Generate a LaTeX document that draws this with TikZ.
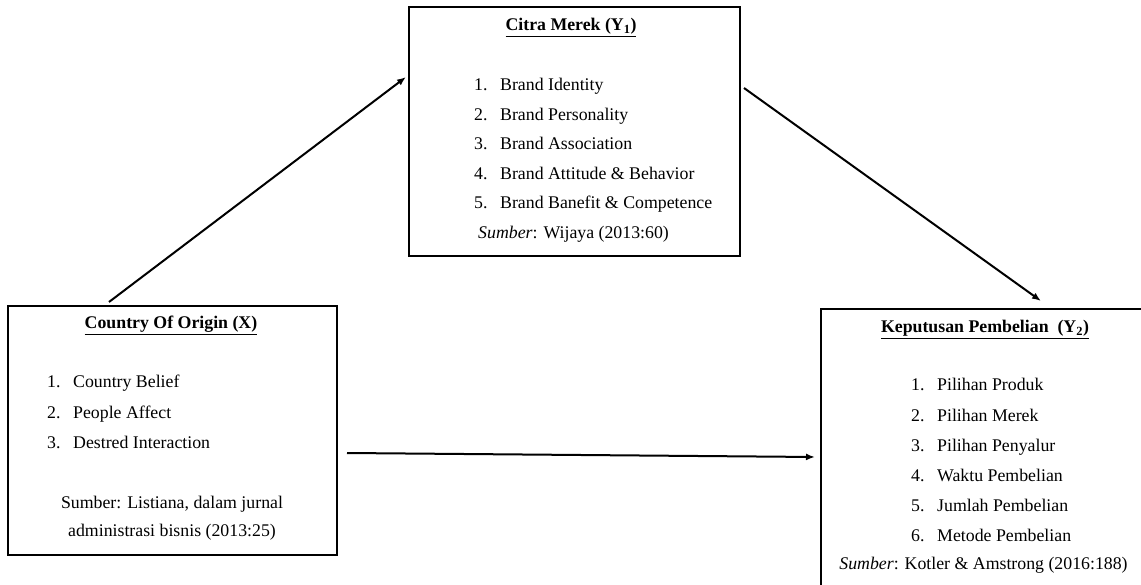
\documentclass[tikz,border=0pt]{standalone}
\usepackage{fontspec}
\setmainfont{Liberation Serif}
\usetikzlibrary{arrows.meta}
\begin{document}
\begin{tikzpicture}[x=1pt,y=-1pt,
  box/.style={draw=black,line width=1.1pt,inner sep=0pt,fill=none},
  txt/.style={inner sep=0pt,anchor=base west,font=\fontsize{17.8}{29.6}\selectfont},
  ttl/.style={inner sep=0pt,anchor=base,font=\fontsize{17.8}{29.6}\selectfont\bfseries},
  ctr/.style={inner sep=0pt,anchor=base,font=\fontsize{17.8}{29.6}\selectfont},
  conn/.style={line width=2pt,-{Latex[length=9pt,width=7pt]}}]
\useasboundingbox (0,0) rectangle (1141,585);
\clip (0,0) rectangle (1141,585);
\fill[white] (0,0) rectangle (1141,585);
\newcommand{\itm}[1]{\makebox[26pt][l]{#1}}
% boxes
\node[box,minimum width=331pt,minimum height=249pt] (citra) at (574.5,131.5) {};
\node[box,minimum width=329pt,minimum height=249pt] (coo) at (172.5,430.5) {};
\node[box,minimum width=400pt,minimum height=320pt] (kp) at (1021,469) {};
% Citra Merek
\node[ttl] (t1) at (571,31) {\underline{Citra Merek (Y\textsubscript{1})}};
\node[txt] (c1) at (474,90.6) {\itm{1.}Brand Identity};
\node[txt] (c2) at (474,120.2) {\itm{2.}Brand Personality};
\node[txt] (c3) at (474,149.8) {\itm{3.}Brand Association};
\node[txt] (c4) at (474,179.4) {\itm{4.}Brand Attitude \& Behavior};
\node[txt] (c5) at (474,209) {\itm{5.}Brand Banefit \& Competence};
\node[txt] (cs) at (478,239) {\textit{Sumber}: Wijaya (2013:60)};
% Country of Origin
\node[ttl] (t2) at (171,329) {\underline{Country Of Origin (X)}};
\node[txt] (x1) at (47,388) {\itm{1.}Country Belief};
\node[txt] (x2) at (47,418) {\itm{2.}People Affect};
\node[txt] (x3) at (47,448) {\itm{3.}Destred Interaction};
\node[ctr] (xs1) at (172,508) {Sumber: Listiana, dalam jurnal};
\node[ctr] (xs2) at (172,536) {administrasi bisnis (2013:25)};
% Keputusan Pembelian
\node[ttl] (t3) at (985,333) {\underline{Keputusan Pembelian\ \ (Y\textsubscript{2})}};
\node[txt] (k1) at (911,391) {\itm{1.}Pilihan Produk};
\node[txt] (k2) at (911,421) {\itm{2.}Pilihan Merek};
\node[txt] (k3) at (911,451) {\itm{3.}Pilihan Penyalur};
\node[txt] (k4) at (911,481) {\itm{4.}Waktu Pembelian};
\node[txt] (k5) at (911,511) {\itm{5.}Jumlah Pembelian};
\node[txt] (k6) at (911,541) {\itm{6.}Metode Pembelian};
\node[ctr] (ks) at (983.5,569) {\textit{Sumber}: Kotler \& Amstrong (2016:188)};
% connectors
\coordinate (a1s) at (109,302);
\coordinate (a1e) at (406,77);
\coordinate (a2s) at (744,88);
\coordinate (a2e) at (1041,301);
\coordinate (a3s) at (347,453);
\coordinate (a3e) at (815,457);
\draw[conn] (a1s) -- (a1e);
\draw[conn] (a2s) -- (a2e);
\draw[conn] (a3s) -- (a3e);
\end{tikzpicture}
\end{document}
